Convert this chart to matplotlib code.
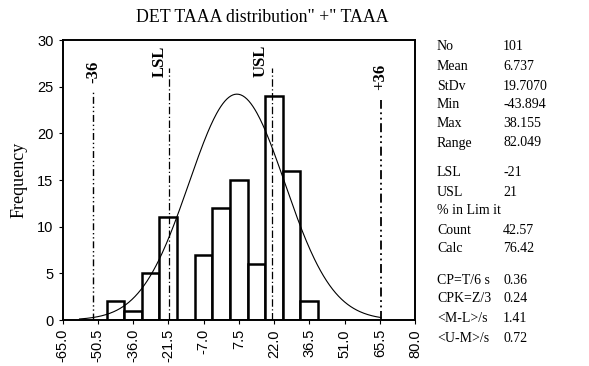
import numpy as np
import matplotlib.pyplot as plt

# histogram data
bin_centers = [-43.25, -36.0, -28.75, -21.5, -14.25, -7.0, 0.25, 7.5, 14.75, 22.0, 29.25, 36.5]
counts = [2, 1, 5, 11, 0, 7, 12, 15, 6, 24, 16, 2]
bin_width = 7.25

xticks = [-65.0, -50.5, -36.0, -21.5, -7.0, 7.5, 22.0, 36.5, 51.0, 65.5, 80.0]
yticks = [0, 5, 10, 15, 20, 25, 30]

mean = 6.737
stdev = 19.707
curve_peak = 24.2
lsl = -21
usl = 21

stat_labels = ["No", "Mean", "StDv", "Min", "Max", "Range",
               "LSL", "USL", "% in Lim it", "Count", "Calc",
               "CP=T/6 s", "CPK=Z/3", "<M-L>/s", "<U-M>/s"]
stat_values = ["101", "6.737", "19.7070", "-43.894", "38.155", "82.049",
               "-21", "21", "", "42.57", "76.42",
               "0.36", "0.24", "1.41", "0.72"]
stat_rows_y = [46, 66, 86, 105, 124, 143, 173, 192, 211, 230, 249, 280, 299, 318, 338]

serif = 'Liberation Serif'
sans = 'Liberation Sans'

fig = plt.figure(figsize=(5.89, 3.66), dpi=100)
ax = fig.add_axes([62.5/589, 1-320/366, (415-62.5)/589, 280/366])

ax.bar(bin_centers, counts, width=bin_width, color='white', edgecolor='black', linewidth=1.8, zorder=2)

# fitted normal curve
xs = np.linspace(-58, 66, 300)
ys = curve_peak * np.exp(-0.5 * ((xs - mean) / stdev) ** 2)
ax.plot(xs, ys, color='black', linewidth=0.8, zorder=3)

lo3 = mean - 3 * stdev
hi3 = mean + 3 * stdev
ax.plot([lo3, lo3], [0, 24.6], color='black', lw=1.0, dashes=(5, 2, 1, 2, 1, 2), zorder=4)
ax.plot([hi3, hi3], [0, 23.6], color='black', lw=1.3, dashes=(5, 2, 1, 2, 1, 2), zorder=4)
ax.plot([lsl, lsl], [0, 27.0], color='black', lw=0.9, dashes=(6, 2, 1, 2), zorder=4)
ax.plot([usl, usl], [0, 27.0], color='black', lw=0.9, dashes=(6, 2, 1, 2), zorder=4)

line_labels = ["-36", "LSL", "USL", "+36"]
label_x = [lo3, -25.0, 16.6, 65.7]
label_y = [25.4, 26.0, 26.0, 24.6]
for t, lx, ly in zip(line_labels, label_x, label_y):
    ax.text(lx, ly, t, rotation=90, ha='center', va='bottom', family=serif,
            fontsize=12, fontweight='bold')

ax.set_xlim(-65, 80)
ax.set_ylim(0, 30)
ax.set_xticks(xticks)
ax.set_xticklabels([f"{v:.1f}" for v in xticks], rotation=90, family=sans, fontsize=10.5)
ax.set_yticks(yticks)
ax.set_yticklabels([str(v) for v in yticks], family=sans, fontsize=10.5)
ax.tick_params(length=3, width=0.8)
for s in ax.spines.values():
    s.set_linewidth(1.4)

ax.set_ylabel("Frequency", family=serif, fontsize=13)
ax.yaxis.set_label_coords(-0.1, 0.5)

fig.text(262/589, 1-17/366, "DET TAAA distribution\" +\" TAAA", ha='center', va='center',
         family=serif, fontsize=12.8)

for lab, val, py in zip(stat_labels, stat_values, stat_rows_y):
    fig.text(437/589, 1-py/366, lab, ha='left', va='center', family=serif, fontsize=10)
    fig.text(503/589, 1-py/366, val, ha='left', va='center', family=serif, fontsize=10)

fig.savefig("out.png", dpi=100)
